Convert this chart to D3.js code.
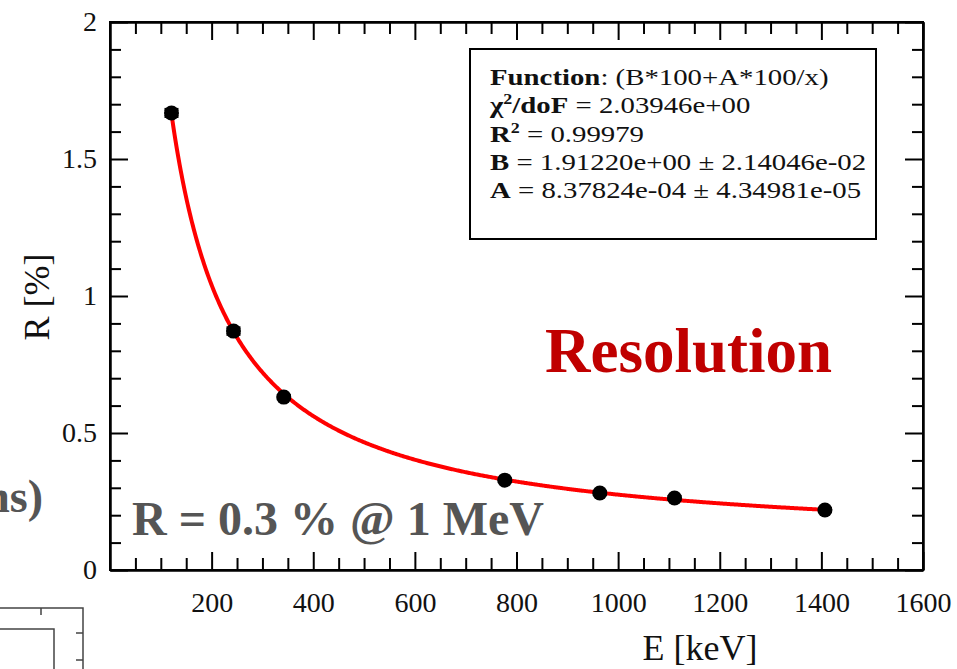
<!DOCTYPE html>
<html lang="en">
<head>
  <meta charset="UTF-8">
  <title>Resolution vs Energy</title>
  <style>
    body { margin: 0; background: #fff; }
    svg text { font-family: "Liberation Serif", "Times New Roman", Times, serif; }
    .axis path, .axis line { stroke: #000; stroke-width: 2px; }
    .axis text { font-size: 28px; fill: #111; }
    .fit { fill: none; stroke: #ff0000; stroke-width: 4px; }
  </style>
  <script src="https://d3js.org/d3.v7.min.js"></script>
</head>
<body>
<div id="chart"></div>
<script>
  // -----------------------------
  // Data
  // -----------------------------
  const energies   = [121, 243, 342, 777, 964, 1111, 1407];   // keV
  const resolution = [1.668, 0.872, 0.631, 0.328, 0.281, 0.263, 0.219]; // %
  const resErrors  = [0.013, 0.012, 0.006, 0.005, 0.005, 0.005, 0.005];

  const xMajorTicks = [200, 400, 600, 800, 1000, 1200, 1400, 1600];
  const yMajorTicks = [0, 0.5, 1, 1.5, 2];

  // fit parameters as printed in the stats box
  const fitB = 1.91220;
  const fitA = 8.37824e-4;

  const legendLines = [
    [["Function", true], [": (B*100+A*100/x)", false]],
    [["\u03C7", true], ["2", true, "sup"], ["/doF", true, "after"], [" = 2.03946e+00", false]],
    [["R", true], ["2", true, "sup"], [" = 0.99979", false, "after"]],
    [["B", true], [" = 1.91220e+00 \u00B1 2.14046e-02", false]],
    [["A", true], [" = 8.37824e-04 \u00B1 4.34981e-05", false]]
  ];

  const SERIF = "'Liberation Serif', 'Times New Roman', Times, serif";

  // -----------------------------
  // Setup
  // -----------------------------
  const width = 957, height = 669;
  const margin = {left: 110, top: 22, right: 34, bottom: 99};

  const svg = d3.select("#chart").append("svg")
    .attr("width", width)
    .attr("height", height)
    .attr("font-family", SERIF);

  const x = d3.scaleLinear().domain([0, 1600]).range([margin.left, width - margin.right]);
  const y = d3.scaleLinear().domain([0, 2]).range([height - margin.bottom, margin.top]);

  const x0 = x.range()[0], x1 = x.range()[1];
  const y0 = y.range()[0], y1 = y.range()[1];

  const xMinor = d3.range(50, 1600, 50).filter(v => v % 200 !== 0);
  const yMinor = d3.range(1, 20).map(v => v / 10).filter(v => Math.round(v * 10) % 5 !== 0);

  // minor ticks first
  svg.append("g").attr("class", "axis").attr("transform", `translate(0,${y0})`)
    .call(d3.axisBottom(x).tickValues(xMinor).tickSizeInner(-12).tickSizeOuter(0).tickFormat(""));
  svg.append("g").attr("class", "axis").attr("transform", `translate(0,${y1})`)
    .call(d3.axisTop(x).tickValues(xMinor).tickSizeInner(-12).tickSizeOuter(0).tickFormat(""));
  svg.append("g").attr("class", "axis").attr("transform", `translate(${x0},0)`)
    .call(d3.axisLeft(y).tickValues(yMinor).tickSizeInner(-11).tickSizeOuter(0).tickFormat(""));
  svg.append("g").attr("class", "axis").attr("transform", `translate(${x1},0)`)
    .call(d3.axisRight(y).tickValues(yMinor).tickSizeInner(-11).tickSizeOuter(0).tickFormat(""));

  // major ticks
  svg.append("g").attr("class", "axis").attr("transform", `translate(0,${y0})`)
    .call(d3.axisBottom(x).tickValues(xMajorTicks).tickSizeInner(-18).tickSizeOuter(0).tickPadding(22).tickFormat(d3.format("d")));
  svg.append("g").attr("class", "axis").attr("transform", `translate(0,${y1})`)
    .call(d3.axisTop(x).tickValues(xMajorTicks).tickSizeInner(-18).tickSizeOuter(0).tickFormat(""));
  svg.append("g").attr("class", "axis").attr("transform", `translate(${x0},0)`)
    .call(d3.axisLeft(y).tickValues(yMajorTicks).tickSizeInner(-18).tickSizeOuter(0).tickPadding(13).tickFormat(d => d));
  svg.append("g").attr("class", "axis").attr("transform", `translate(${x1},0)`)
    .call(d3.axisRight(y).tickValues(yMajorTicks).tickSizeInner(-18).tickSizeOuter(0).tickFormat(""));

  svg.selectAll(".axis").attr("font-family", SERIF);

  // frame
  svg.append("rect")
    .attr("x", x0).attr("y", y1)
    .attr("width", x1 - x0).attr("height", y0 - y1)
    .attr("fill", "none").attr("stroke", "#000").attr("stroke-width", 2);

  // axis titles
  svg.append("text")
    .attr("x", 700).attr("y", 660)
    .attr("text-anchor", "middle")
    .attr("font-size", 36).attr("fill", "#111")
    .text("E [keV]");

  svg.append("text")
    .attr("transform", "translate(49,297) rotate(-90)")
    .attr("text-anchor", "middle")
    .attr("font-size", 36).attr("fill", "#111")
    .text("R [%]");

  // -----------------------------
  // Fit curve and points
  // -----------------------------
  const fitX = d3.range(energies[0], energies[energies.length - 1] + 1, 2);
  const fitLine = d3.line()
    .x(e => x(e))
    .y(e => y(fitA * 100 + fitB * 100 / e));

  svg.append("path").datum(fitX).attr("class", "fit").attr("d", fitLine);

  const pts = energies.map((e, i) => ({e: e, r: resolution[i], err: resErrors[i]}));
  const pg = svg.append("g");

  pg.selectAll("line.err").data(pts).enter().append("line")
    .attr("class", "err")
    .attr("x1", d => x(d.e)).attr("x2", d => x(d.e))
    .attr("y1", d => y(d.r - d.err)).attr("y2", d => y(d.r + d.err))
    .attr("stroke", "#000").attr("stroke-width", 2);

  [["lo", -1], ["hi", 1]].forEach(([name, sign]) => {
    pg.selectAll("line.cap-" + name).data(pts).enter().append("line")
      .attr("class", "cap-" + name)
      .attr("x1", d => x(d.e) - 7).attr("x2", d => x(d.e) + 7)
      .attr("y1", d => y(d.r + sign * d.err))
      .attr("y2", d => y(d.r + sign * d.err))
      .attr("stroke", "#000").attr("stroke-width", 3);
  });

  pg.selectAll("circle").data(pts).enter().append("circle")
    .attr("cx", d => x(d.e)).attr("cy", d => y(d.r))
    .attr("r", 7.5).attr("fill", "#000");

  // -----------------------------
  // Stats box
  // -----------------------------
  svg.append("rect")
    .attr("x", 470).attr("y", 49).attr("width", 406).attr("height", 190)
    .attr("fill", "#fff").attr("stroke", "#000").attr("stroke-width", 2);

  // text in the box is drawn a little wider than tall, as in the reference
  const statBox = svg.append("g").attr("transform", "translate(490,0) scale(1.2,1)");
  legendLines.forEach((parts, i) => {
    const t = statBox.append("text")
      .attr("x", 0).attr("y", 85 + i * 28.3)
      .attr("font-size", 24).attr("fill", "#111");
    parts.forEach(p => {
      const ts = t.append("tspan").text(p[0]).attr("font-weight", p[1] ? "bold" : "normal");
      if (p[2] === "sup") ts.attr("font-size", 15).attr("dy", -9);
      if (p[2] === "after") ts.attr("dy", 9);
    });
  });

  // -----------------------------
  // Annotations
  // -----------------------------
  svg.append("text")
    .attr("x", 545).attr("y", 372)
    .attr("font-size", 63).attr("font-weight", "bold").attr("fill", "#c00000")
    .text("Resolution");

  svg.append("text")
    .attr("x", 132).attr("y", 535)
    .attr("font-size", 48).attr("font-weight", "bold").attr("fill", "#555")
    .text("R = 0.3 % @ 1 MeV");

  // cut-off pieces of the neighbouring panel at the left edge
  svg.append("text")
    .attr("x", 43).attr("y", 512)
    .attr("text-anchor", "end")
    .attr("font-size", 46).attr("font-weight", "bold").attr("fill", "#555")
    .text("ns)");

  const edge = svg.append("g").attr("stroke", "#444").attr("stroke-width", 1.5).attr("fill", "none");
  edge.append("path").attr("d", "M0,608 H83 V669");
  edge.append("path").attr("d", "M0,629 H54 V669");
  edge.append("path").attr("d", "M41,608 V615 M83,633 H76 M83,660 H76");
</script>
</body>
</html>
